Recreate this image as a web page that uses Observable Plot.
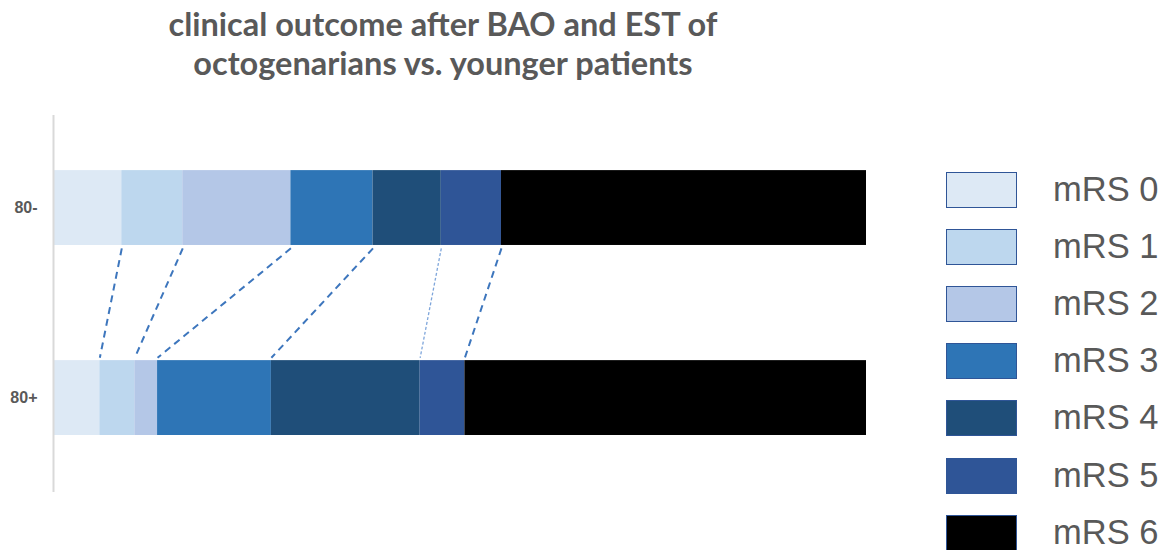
<!DOCTYPE html>
<html>
<head>
<meta charset="utf-8">
<script src="https://cdn.jsdelivr.net/npm/d3@7"></script>
<script src="https://cdn.jsdelivr.net/npm/@observablehq/plot@0.6"></script>
<style>
  html, body { margin: 0; padding: 0; background: #fff; }
  #wrap { position: relative; width: 1168px; height: 550px; overflow: hidden; }
  #title { position: absolute; left: 0; width: 886px; top: 4px; text-align: center;
           font-family: Lato, "Open Sans", sans-serif; font-weight: 700; font-size: 32.5px;
           line-height: 39px; color: #595959; }
  #chart { position: absolute; left: 0; top: 0; }
  #legend { position: absolute; left: 946px; top: 172px; font-family: "Liberation Sans", Arial, sans-serif; }
  .item { position: absolute; left: 0; height: 37px; width: 222px; }
  .sw { position: absolute; left: 0; top: 0; width: 69px; height: 34px; border: 1.5px solid #2f5597; }
  .lab { position: absolute; left: 107px; top: -1px; font-size: 34.5px; line-height: 37px; color: #595959; white-space: nowrap; }
</style>
</head>
<body>
<div id="wrap">
  <div id="chart"></div>
  <div id="title">clinical outcome after BAO and EST of<br>octogenarians vs. younger patients</div>
  <div id="legend"></div>
</div>
<script>
// ---- data ----
const groups = ["80-", "80+"];
const categories = ["mRS 0", "mRS 1", "mRS 2", "mRS 3", "mRS 4", "mRS 5", "mRS 6"];
const younger = [8.4, 7.5, 13.3, 10.1, 8.4, 7.4, 44.9];      // 80-
const octogenarians = [5.7, 4.3, 2.8, 14.0, 18.3, 5.5, 49.4]; // 80+
const colors = ["#dde9f5", "#bdd7ee", "#b4c7e7", "#2e75b6", "#1f4e79", "#2f5597", "#000000"];

// ---- build table ----
const series = [younger, octogenarians];
const segs = [];
const cums = [];
series.forEach((vals, row) => {
  let c = 0;
  const cum = [0];
  vals.forEach((v, j) => {
    segs.push({group: groups[row], row, cat: categories[j], x1: c, x2: c + v});
    c += v;
    cum.push(c);
  });
  cums.push(cum);
});
const links = [];
for (let k = 1; k < categories.length; k++) {
  links.push({k, x1: cums[0][k], x2: cums[1][k]});
}

const half = 0.197;
const gap = 0.015;

const chart = Plot.plot({
  width: 1168,
  height: 550,
  marginLeft: 53,
  marginRight: 302,
  marginTop: 115,
  marginBottom: 58,
  x: {domain: [0, 100], axis: null},
  y: {domain: [1.497, -0.487], axis: null},
  color: {domain: categories, range: colors},
  style: {fontFamily: "'Liberation Sans', Arial, sans-serif", background: "white"},
  marks: [
    Plot.rect(segs, {x1: "x1", x2: "x2", y1: d => d.row - half, y2: d => d.row + half, fill: "cat"}),
    Plot.link(links.filter(d => d.k !== 5), {
      x1: "x1", x2: "x2", y1: 0 + half + gap, y2: 1 - half - gap,
      stroke: "#3d76bd", strokeWidth: 2, strokeDasharray: "7,5"
    }),
    Plot.link(links.filter(d => d.k === 5), {
      x1: "x1", x2: "x2", y1: 0 + half + gap, y2: 1 - half - gap,
      stroke: "#7fa6db", strokeWidth: 1.3, strokeDasharray: "3,2"
    }),
    Plot.ruleX([0], {y1: -0.487, y2: 1.497, stroke: "#d9d9d9", strokeWidth: 2}),
    Plot.axisY([0, 1], {
      tickFormat: i => groups[i], tickSize: 0, tickPadding: 16,
      fontSize: 16, fontWeight: "bold", fill: "#595959", stroke: null
    })
  ]
});
document.getElementById("chart").appendChild(chart);

// ---- legend ----
const legend = document.getElementById("legend");
categories.forEach((c, i) => {
  const item = document.createElement("div");
  item.className = "item";
  item.style.top = (i * 57.1) + "px";
  const sw = document.createElement("div");
  sw.className = "sw";
  sw.style.background = colors[i];
  const lab = document.createElement("div");
  lab.className = "lab";
  lab.textContent = c;
  item.appendChild(sw);
  item.appendChild(lab);
  legend.appendChild(item);
});
</script>
</body>
</html>
